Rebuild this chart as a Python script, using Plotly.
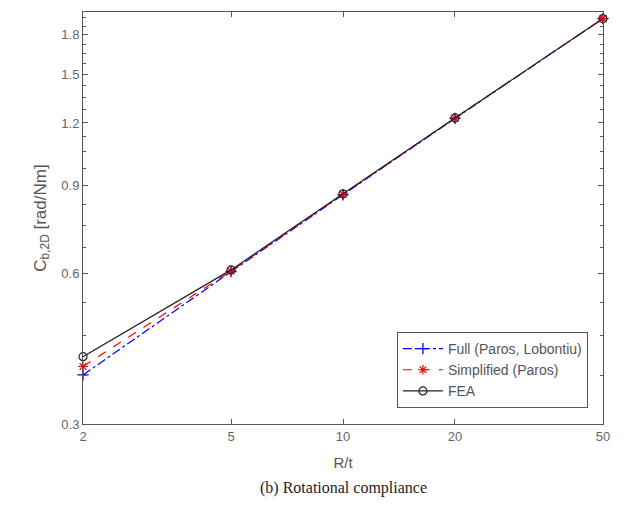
import math
import plotly.graph_objects as go

rt = [2, 5, 10, 20, 50]
full = [0.376, 0.605, 0.862, 1.225, 1.94]
simplified = [0.391, 0.607, 0.864, 1.227, 1.94]
fea = [0.409, 0.610, 0.866, 1.228, 1.94]

y_major = [0.3, 0.6, 0.9, 1.2, 1.5, 1.8]
y_minor = [0.375, 0.45, 0.525, 0.675, 0.75, 0.825, 0.975, 1.05, 1.125,
           1.275, 1.35, 1.425, 1.575, 1.65, 1.725, 1.875, 1.95]
x_ticks = [2, 5, 10, 20, 50]

fig = go.Figure()
fig.add_trace(go.Scatter(
    x=rt, y=full, name="Full (Paros, Lobontiu)", mode="lines+markers", cliponaxis=False,
    line=dict(color="#0000ff", width=1.2, dash="dashdot"),
    marker=dict(symbol="cross-thin-open", size=8, line=dict(color="#0000ff", width=1.3))))
fig.add_trace(go.Scatter(
    x=rt, y=simplified, name="Simplified (Paros)", mode="lines+markers", cliponaxis=False,
    line=dict(color="#ff0000", width=1.2, dash="dash"),
    marker=dict(symbol="asterisk-open", size=8, line=dict(color="#ff0000", width=1.2))))
fig.add_trace(go.Scatter(
    x=rt, y=fea, name="FEA", mode="lines+markers", cliponaxis=False,
    line=dict(color="#222222", width=1.2),
    marker=dict(symbol="circle-open", size=8, line=dict(color="#222222", width=1.2))))

axis_common = dict(
    showline=True, linecolor="#555555", linewidth=1, mirror="allticks",
    ticks="inside", ticklen=5, tickcolor="#555555", showgrid=False, zeroline=False,
    tickfont=dict(family="Liberation Sans, Arial", size=13, color="#666666"),
)

eps = 1e-6
fig.update_xaxes(type="log", range=[math.log10(2) - eps, math.log10(50) + eps], tickmode="array",
                 tickvals=x_ticks, ticktext=[str(v) for v in x_ticks],
                 title=dict(text="R/t", font=dict(family="Liberation Sans, Arial", size=15, color="#555555"), standoff=14),
                 **axis_common)
fig.update_yaxes(type="log", range=[math.log10(0.3) - eps, math.log10(2.0)], tickmode="array",
                 tickvals=y_major, ticktext=[str(v) for v in y_major],
                 minor=dict(tickmode="array", tickvals=y_minor, ticks="inside", ticklen=3,
                            tickcolor="#555555", showgrid=False),
                 title=dict(text="C<sub>b,2D</sub> [rad/Nm]", font=dict(family="Liberation Sans, Arial", size=17, color="#555555"), standoff=10),
                 **axis_common)

fig.update_layout(
    width=626, height=510,
    margin=dict(l=83, r=23, t=12, b=86),
    paper_bgcolor="white", plot_bgcolor="white",
    showlegend=True,
    legend=dict(x=0.971, y=0.039, xanchor="right", yanchor="bottom",
                bordercolor="#555555", borderwidth=1, bgcolor="white",
                font=dict(family="Liberation Sans, Arial", size=14, color="#555555"),
                tracegroupgap=0, itemwidth=40),
    annotations=[dict(text="(b) Rotational compliance", xref="paper", yref="paper",
                      x=0.5, y=-0.155, xanchor="center", yanchor="middle", showarrow=False,
                      font=dict(family="Liberation Serif, Times New Roman", size=16, color="#222222"))],
)

fig.write_html("out.html")
